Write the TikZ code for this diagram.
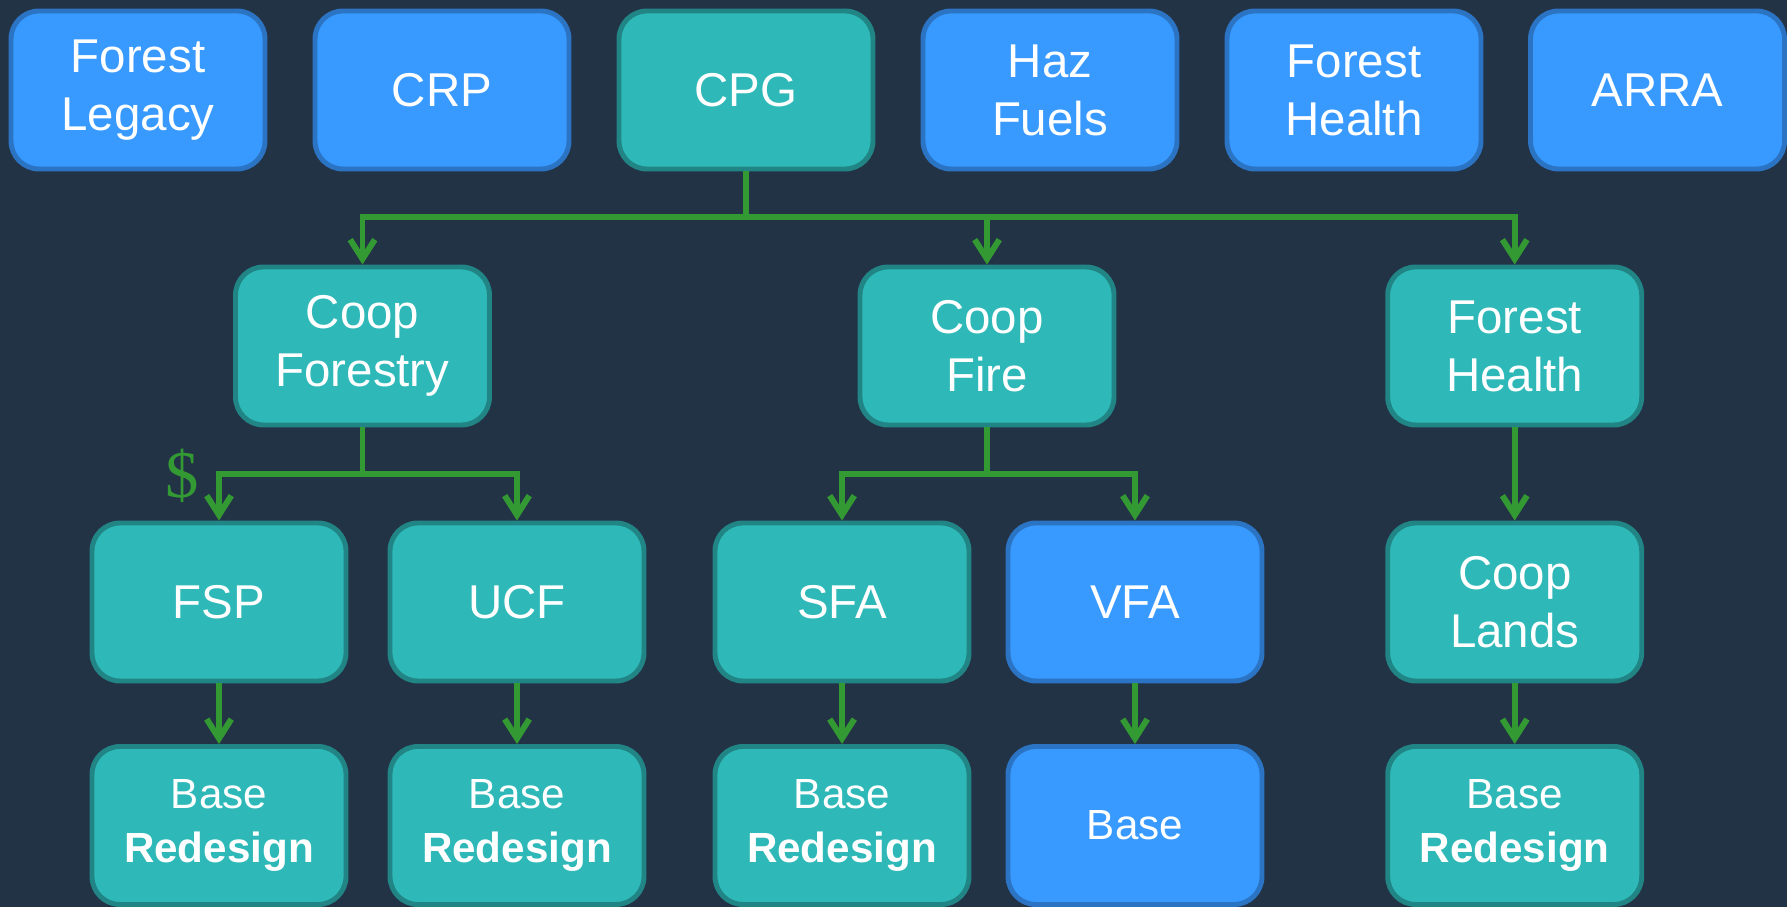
\documentclass[tikz,border=0pt]{standalone}
\usepackage{fontspec}
\setmainfont{Liberation Sans}
\newfontfamily\dollarfont{Liberation Serif}
\usetikzlibrary{arrows.meta}
\definecolor{bgnavy}{HTML}{233346}
\definecolor{boxblue}{HTML}{3899FF}
\definecolor{edgeblue}{HTML}{2B74C4}
\definecolor{boxteal}{HTML}{2EB8B8}
\definecolor{edgeteal}{HTML}{218585}
\definecolor{linkgreen}{HTML}{339933}
\begin{document}
\begin{tikzpicture}[
	card/.style={rounded corners=0.28cm,line width=1.4pt,minimum width=2.54cm,minimum height=1.58cm,inner sep=0pt,text=white,align=center,font=\fontsize{13.5}{16.5}\selectfont},
	bluebox/.style={card,draw=edgeblue,fill=boxblue},
	tealbox/.style={card,draw=edgeteal,fill=boxteal},
	basetext/.style={font=\fontsize{12}{15.2}\selectfont},
	link/.style={draw=linkgreen,line width=1.7pt,-{Straight Barb[length=5.5pt,width=7pt]}}]
	\fill[bgnavy] (0,0) rectangle (17.87,9.07);
	\useasboundingbox (0,0) rectangle (17.87,9.07);
	% funding sources
	\node[bluebox] (legacy) at (1.38,8.17) {Forest\\Legacy};
	\node[bluebox] (crp) at (4.42,8.17) {CRP};
	\node[tealbox] (cpg) at (7.46,8.17) {CPG};
	\node[bluebox] (haz) at (10.50,8.17) {Haz\\Fuels};
	\node[bluebox] (fhtop) at (13.54,8.17) {Forest\\Health};
	\node[bluebox] (arra) at (16.575,8.17) {ARRA};
	% programs
	\node[tealbox] (forestry) at (3.625,5.61) {Coop\\Forestry};
	\node[tealbox] (fire) at (9.87,5.61) {Coop\\Fire};
	\node[tealbox] (health) at (15.147,5.61) {Forest\\Health};
	\node[tealbox] (fsp) at (2.19,3.05) {FSP};
	\node[tealbox] (ucf) at (5.17,3.05) {UCF};
	\node[tealbox] (sfa) at (8.42,3.05) {SFA};
	\node[bluebox] (vfa) at (11.35,3.05) {VFA};
	\node[tealbox] (lands) at (15.147,3.05) {Coop\\Lands};
	\node[tealbox,basetext] (fspbase) at (2.19,0.815) {Base\\\textbf{Redesign}};
	\node[tealbox,basetext] (ucfbase) at (5.17,0.815) {Base\\\textbf{Redesign}};
	\node[tealbox,basetext] (sfabase) at (8.42,0.815) {Base\\\textbf{Redesign}};
	\node[bluebox,basetext] (vfabase) at (11.35,0.815) {Base};
	\node[tealbox,basetext] (landsbase) at (15.147,0.815) {Base\\\textbf{Redesign}};
	\node[anchor=base,text=linkgreen,font=\dollarfont\fontsize{19}{19}\selectfont,inner sep=0pt] (dollar) at (1.82,4.09) {\$};
	% money flow
	\draw[link] (cpg.south) -- ++(0,-0.455) -| (forestry.north);
	\draw[link] (cpg.south) -- ++(0,-0.455) -| (fire.north);
	\draw[link] (cpg.south) -- ++(0,-0.455) -| (health.north);
	\draw[link] (forestry.south) -- ++(0,-0.47) -| (fsp.north);
	\draw[link] (forestry.south) -- ++(0,-0.47) -| (ucf.north);
	\draw[link] (fire.south) -- ++(0,-0.47) -| (sfa.north);
	\draw[link] (fire.south) -- ++(0,-0.47) -| (vfa.north);
	\draw[link] (health) -- (lands);
	\draw[link] (fsp) -- (fspbase);
	\draw[link] (ucf) -- (ucfbase);
	\draw[link] (sfa) -- (sfabase);
	\draw[link] (vfa) -- (vfabase);
	\draw[link] (lands) -- (landsbase);
\end{tikzpicture}
\end{document}
